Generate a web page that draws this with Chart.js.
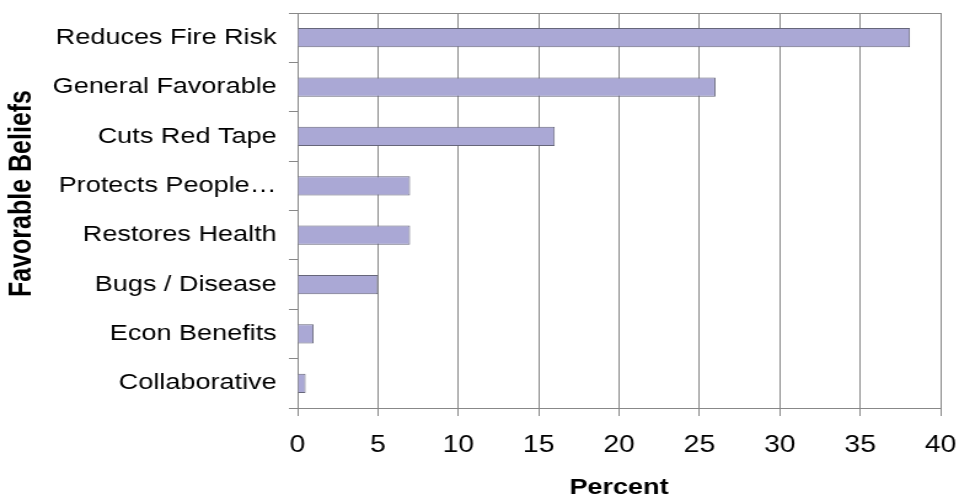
<!DOCTYPE html>
<html lang="en">
<head>
<meta charset="utf-8">
<title>Favorable Beliefs</title>
<script src="https://cdn.jsdelivr.net/npm/chart.js@4.4.1/dist/chart.umd.min.js"></script>
<style>
  html, body { margin: 0; padding: 0; background: #fff; }
  #chartBeliefs { display: block; }
</style>
</head>
<body>
<!-- le canvas est étiré horizontalement comme l'image d'origine -->
<canvas id="chartBeliefs" width="780" height="500" style="width:959px;height:500px"></canvas>
<script>
// ==========================================
// DONNÉES
// ==========================================
const categories = [
  'Reduces Fire Risk',
  'General Favorable',
  'Cuts Red Tape',
  'Protects People\u2026',
  'Restores Health',
  'Bugs / Disease',
  'Econ Benefits',
  'Collaborative'
];
const percentValues = [38.1, 26, 16, 7, 7, 5, 1, 0.5];
const xTicks = [0, 5, 10, 15, 20, 25, 30, 35, 40];

const xTitle = 'Percent';
const yTitle = 'Favorable Beliefs';

// ========================
// COULEURS / POLICES
// ========================
const cBar = '#aaa8d5';
const cBarBorder = '#66667a';
const cGrid = '#888';
const cText = '#000';
const fontFamily = "'Liberation Sans', Arial, Helvetica, sans-serif";

// Cadre du haut + titre vertical (placé à la main)
const framePlugin = {
  id: 'frame',
  afterDraw(chart) {
    const { ctx, chartArea: a } = chart;
    ctx.save();
    ctx.strokeStyle = cGrid;
    ctx.lineWidth = 1;
    ctx.beginPath();
    ctx.moveTo(a.left, Math.round(a.top) + 0.5);
    ctx.lineTo(a.right, Math.round(a.top) + 0.5);
    ctx.stroke();

    ctx.translate(18.5, 193.5);
    ctx.rotate(-Math.PI / 2);
    ctx.fillStyle = cText;
    ctx.font = 'bold 25px ' + fontFamily;
    ctx.textAlign = 'center';
    ctx.textBaseline = 'middle';
    ctx.fillText(yTitle, 0, 0);
    ctx.restore();
  }
};

const ctx = document.getElementById('chartBeliefs').getContext('2d');

new Chart(ctx, {
  type: 'bar',
  data: {
    labels: categories,
    datasets: [{
      label: xTitle,
      data: percentValues,
      backgroundColor: cBar,
      borderColor: cBarBorder,
      borderWidth: 1,
      barPercentage: 0.39,
      categoryPercentage: 1
    }]
  },
  options: {
    indexAxis: 'y',
    responsive: false,
    animation: false,
    devicePixelRatio: 1,
    layout: { padding: { top: 13, right: 15, bottom: 0, left: 0 } },
    plugins: {
      legend: { display: false },
      tooltip: { enabled: false }
    },
    scales: {
      x: {
        min: 0,
        max: 40,
        afterBuildTicks: (scale) => { scale.ticks = xTicks.map(v => ({ value: v })); },
        grid: { color: cGrid, lineWidth: 1, tickLength: 8, drawTicks: true },
        border: { color: cGrid, width: 1 },
        ticks: {
          color: cText,
          padding: 16,
          maxRotation: 0,
          font: { family: fontFamily, size: 23 }
        },
        title: {
          display: true,
          text: xTitle,
          color: cText,
          padding: { top: 0, bottom: 1 },
          font: { family: fontFamily, size: 22, weight: 'bold', lineHeight: 1 }
        },
        afterFit: (scale) => {
          scale.height = 92;
          scale.paddingLeft = 0;
          scale.paddingRight = 0;
        }
      },
      y: {
        offset: true,
        grid: { offset: true, drawOnChartArea: false, color: cGrid, tickLength: 7 },
        border: { color: cGrid, width: 1 },
        ticks: {
          color: cText,
          padding: 10,
          autoSkip: false,
          font: { family: fontFamily, size: 22 }
        },
        afterFit: (scale) => {
          scale.width = 242;
          scale.paddingTop = 0;
          scale.paddingBottom = 0;
        }
      }
    }
  },
  plugins: [framePlugin]
});
</script>
</body>
</html>
